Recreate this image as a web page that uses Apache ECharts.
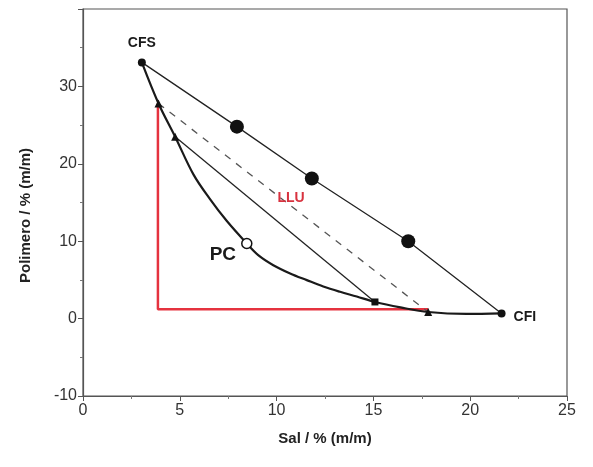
<!DOCTYPE html>
<html style="height: 100%">

<head>
    <meta charset="utf-8">
    <script src="https://cdn.jsdelivr.net/npm/echarts@6/dist/echarts.min.js"></script>
</head>

<body style="height: 100%; margin: 0; background: #fff">
    <div id="chart" style="width: 593px; height: 467px"></div>
    <script type="text/javascript">
        // binodal curve (Sal, Polimero)
        var binodal = [[3.04, 33.1], [3.9, 27.8], [4.76, 23.5], [5.71, 18.6], [6.57, 15.4],
            [7.43, 12.6], [8.46, 9.7], [9.05, 8.2], [9.83, 6.9], [10.7, 5.83], [11.56, 4.97],
            [12.41, 4.15], [13.28, 3.46], [14.14, 2.85], [15.08, 2.15], [16.4, 1.45],
            [17.83, 0.85], [19.8, 0.6], [21.62, 0.67]];
        var cfs = [3.04, 33.1];
        var cfi = [21.62, 0.67];
        var bigPoints = [[7.95, 24.8], [11.82, 18.1], [16.8, 10.0]];
        var triangles = [[3.9, 27.8], [4.76, 23.5], [17.83, 0.85]];
        var squarePt = [15.08, 2.15];
        var pc = [8.46, 9.7];
        var tieLine = [[4.76, 23.5], [15.08, 2.15]];
        var dashLine = [[3.9, 27.8], [17.83, 0.85]];
        var redLine = [[3.87, 27.8], [3.87, 1.2], [17.83, 1.2]];
        var lluPos = [10.75, 15.6];

        var myChart = echarts.init(document.getElementById('chart'));
        var font = 'Liberation Sans, Arial, sans-serif';

        function markLabel(text, pos, size, extra) {
            var l = { show: true, position: pos, formatter: text, fontFamily: font, fontSize: size, fontWeight: 'bold', color: '#1a1a1a' };
            for (var k in extra) l[k] = extra[k];
            return l;
        }

        myChart.setOption({
            animation: false,
            grid: { left: 83, right: 26, top: 9, bottom: 71, show: true, borderColor: '#555', borderWidth: 1.2 },
            xAxis: {
                type: 'value', min: 0, max: 25, interval: 5,
                name: 'Sal / % (m/m)', nameLocation: 'middle', nameGap: 35,
                nameTextStyle: { fontFamily: font, fontSize: 15, fontWeight: 'bold', color: '#222' },
                axisLine: { onZero: false, lineStyle: { color: '#555', width: 1.2 } },
                axisTick: { inside: false, length: 5, lineStyle: { color: '#555' } },
                minorTick: { show: true, splitNumber: 2, length: 3, lineStyle: { color: '#777' } },
                axisLabel: { fontFamily: font, fontSize: 16, color: '#333', margin: 7 },
                splitLine: { show: false }
            },
            yAxis: {
                type: 'value', min: -10, max: 40, interval: 10,
                name: 'Polimero / % (m/m)', nameLocation: 'middle', nameGap: 50, nameRotate: 90,
                nameTextStyle: { fontFamily: font, fontSize: 15, fontWeight: 'bold', color: '#222', padding: [0, 26, 0, 0] },
                axisLine: { onZero: false, lineStyle: { color: '#555', width: 1.2 } },
                axisTick: { inside: false, length: 5, lineStyle: { color: '#555' } },
                minorTick: { show: true, splitNumber: 2, length: 3, lineStyle: { color: '#777' } },
                axisLabel: { fontFamily: font, fontSize: 16, color: '#333', margin: 6, showMaxLabel: false },
                splitLine: { show: false }
            },
            series: [
                {
                    type: 'line', data: redLine, symbol: 'none',
                    lineStyle: { color: '#e5323f', width: 2.5 }, z: 2
                },
                {
                    type: 'line', data: [cfs].concat(bigPoints, [cfi]), symbol: 'none',
                    lineStyle: { color: '#222', width: 1.3 }, z: 3
                },
                {
                    type: 'line', data: tieLine, symbol: 'none',
                    lineStyle: { color: '#222', width: 1.3 }, z: 3
                },
                {
                    type: 'line', data: dashLine, symbol: 'none',
                    lineStyle: { color: '#555', width: 1.3, type: [7, 7] }, z: 3
                },
                {
                    type: 'line', data: binodal, symbol: 'none', smooth: 0.35,
                    lineStyle: { color: '#1a1a1a', width: 2.2 }, z: 4
                },
                {
                    type: 'scatter', data: bigPoints, symbolSize: 14,
                    itemStyle: { color: '#111', opacity: 1 }, z: 5
                },
                {
                    type: 'scatter', data: triangles, symbol: 'triangle', symbolSize: 8,
                    itemStyle: { color: '#111', opacity: 1 }, z: 5
                },
                {
                    type: 'scatter', data: [squarePt], symbol: 'rect', symbolSize: 7,
                    itemStyle: { color: '#111', opacity: 1 }, z: 5
                },
                {
                    type: 'scatter', data: [cfs], symbolSize: 8, itemStyle: { color: '#111', opacity: 1 }, z: 5,
                    label: markLabel('CFS', 'top', 14, { distance: 8 })
                },
                {
                    type: 'scatter', data: [cfi], symbolSize: 8, itemStyle: { color: '#111', opacity: 1 }, z: 5,
                    label: markLabel('CFI', 'right', 14, { distance: 8, offset: [0, 4] })
                },
                {
                    type: 'scatter', data: [pc], symbolSize: 10,
                    itemStyle: { color: '#fff', borderColor: '#111', borderWidth: 1.5, opacity: 1 }, z: 6,
                    label: markLabel('PC', 'left', 19, { distance: 5, offset: [0, 11] })
                },
                {
                    type: 'scatter', data: [lluPos], symbolSize: 0, itemStyle: { opacity: 1 }, z: 6,
                    label: markLabel('LLU', 'inside', 14, { color: '#d8323f' })
                }
            ]
        });
    </script>
</body>

</html>
